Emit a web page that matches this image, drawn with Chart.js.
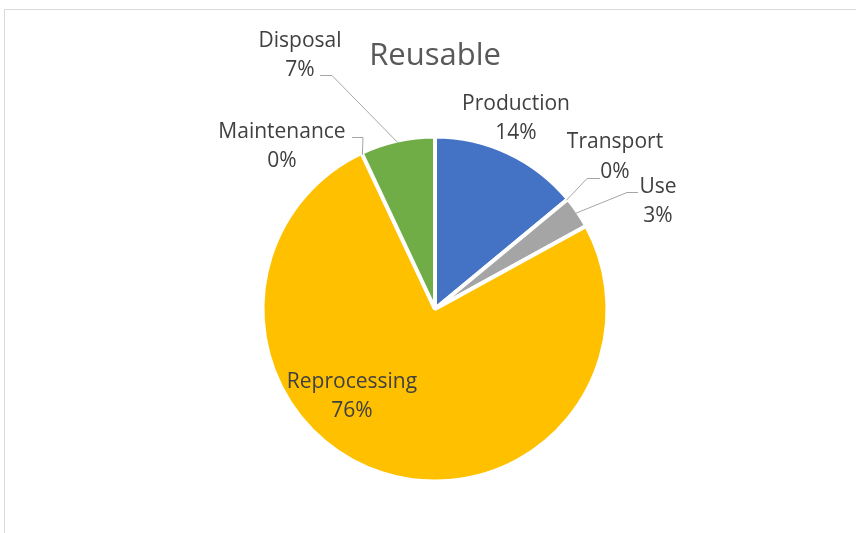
<!DOCTYPE html>
<html>
<head>
<meta charset="utf-8">
<title>Reusable</title>
<script src="https://cdn.jsdelivr.net/npm/chart.js@4/dist/chart.umd.min.js"></script>
<style>
  html, body { margin: 0; padding: 0; background: #fff; }
  #wrap { width: 856px; height: 533px; }
</style>
</head>
<body>
<div id="wrap"><canvas id="chartReusable" width="856" height="533"></canvas></div>
<script>
// ======================
// data
// ======================
const chartTitle = "Reusable";
const stages = ["Production", "Transport", "Use", "Reprocessing", "Maintenance", "Disposal"];
const shares = [14, 0, 3, 76, 0, 7];   // percent of total
const sliceColors = ["#4472C4", "#ED7D31", "#A5A5A5", "#FFC000", "#5B9BD5", "#70AD47"];

// ======================
// label placement (baselines + leader elbows), by stage index
// ======================
const labelLayout = [
  { x: 516, y1: 110, y2: 139 },                                  // Production
  { x: 615, y1: 148, y2: 178, leader: [[600, 178], [587, 178]] }, // Transport
  { x: 658, y1: 193, y2: 222, leader: [[638, 192], [627, 192]] }, // Use
  { x: 352, y1: 388, y2: 417 },                                  // Reprocessing
  { x: 282, y1: 138, y2: 167, leader: [[352, 137], [363, 137]] }, // Maintenance
  { x: 300, y1: 47,  y2: 76,  leader: [[320, 75], [332, 75]] }    // Disposal
];

const FONT = "'Open Sans', 'Noto Sans', sans-serif";

function pctText(v) {
  const total = shares.reduce((a, b) => a + b, 0) || 1;
  return Math.round((v / total) * 100) + "%";
}

// frame + title
const framePlugin = {
  id: "frame",
  beforeDraw(chart) {
    const ctx = chart.ctx;
    ctx.save();
    ctx.strokeStyle = "#d9d9d9";
    ctx.lineWidth = 1;
    ctx.beginPath();
    ctx.moveTo(4.5, 533);
    ctx.lineTo(4.5, 9.5);
    ctx.lineTo(856, 9.5);
    ctx.stroke();

    ctx.fillStyle = "#595959";
    ctx.font = "31px " + FONT;
    ctx.textAlign = "center";
    ctx.textBaseline = "alphabetic";
    ctx.fillText(chartTitle, 435, 65);
    ctx.restore();
  }
};

// data labels with leader lines
const labelPlugin = {
  id: "stageLabels",
  afterDatasetsDraw(chart) {
    const ctx = chart.ctx;
    const arcs = chart.getDatasetMeta(0).data;
    ctx.save();
    arcs.forEach((arc, i) => {
      const lay = labelLayout[i];
      if (!lay) return;
      if (lay.leader) {
        const p = arc.getProps(["x", "y", "startAngle", "endAngle", "outerRadius"], true);
        const mid = (p.startAngle + p.endAngle) / 2;
        const r = p.outerRadius - 2;
        const ex = p.x + Math.cos(mid) * r;
        const ey = p.y + Math.sin(mid) * r;
        ctx.strokeStyle = "#a6a6a6";
        ctx.lineWidth = 1;
        ctx.beginPath();
        ctx.moveTo(lay.leader[0][0], lay.leader[0][1] + 0.5);
        ctx.lineTo(lay.leader[1][0], lay.leader[1][1] + 0.5);
        ctx.lineTo(ex, ey);
        ctx.stroke();
      }
      ctx.fillStyle = "#404040";
      ctx.font = "21px " + FONT;
      ctx.textAlign = "center";
      ctx.textBaseline = "alphabetic";
      ctx.fillText(stages[i], lay.x, lay.y1);
      ctx.fillText(pctText(shares[i]), lay.x, lay.y2);
    });
    ctx.restore();
  }
};

new Chart(document.getElementById("chartReusable"), {
  type: "pie",
  data: {
    labels: stages,
    datasets: [{
      data: shares,
      backgroundColor: sliceColors,
      borderColor: "#ffffff",
      borderWidth: 4,
      hoverOffset: 0,
      offset: 0
    }]
  },
  options: {
    responsive: false,
    animation: false,
    events: [],
    layout: { padding: { left: 260.5, right: 246.5, top: 134.5, bottom: 49.5 } },
    plugins: {
      legend: { display: false },
      title: { display: false },
      tooltip: { enabled: false }
    }
  },
  plugins: [framePlugin, labelPlugin]
});
</script>
</body>
</html>
